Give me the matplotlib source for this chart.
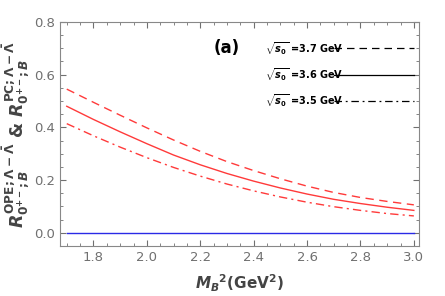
import matplotlib.pyplot as plt
from matplotlib.ticker import MultipleLocator

plt.rcParams["mathtext.fontset"] = "custom"
plt.rcParams["mathtext.it"] = "DejaVu Sans:bold:italic"
plt.rcParams["mathtext.rm"] = "DejaVu Sans:bold"
plt.rcParams["mathtext.bf"] = "DejaVu Sans:bold"

# Borel parameter M_B^2 (GeV^2)
m2 = [1.7, 1.8, 1.9, 2.0, 2.1, 2.2, 2.3, 2.4, 2.5, 2.6, 2.7, 2.8, 2.9, 3.0]

# pole-contribution ratios for three thresholds
pc_37 = [0.545, 0.495, 0.446, 0.398, 0.352, 0.309, 0.270, 0.236, 0.205, 0.177, 0.153, 0.134, 0.119, 0.106]
pc_36 = [0.480, 0.430, 0.383, 0.338, 0.295, 0.258, 0.225, 0.196, 0.170, 0.147, 0.127, 0.111, 0.097, 0.085]
pc_35 = [0.414, 0.368, 0.325, 0.285, 0.248, 0.215, 0.185, 0.159, 0.136, 0.116, 0.099, 0.085, 0.073, 0.064]

# OPE ratio (flat, ~0)
ope = [0.0] * len(m2)

legend_labels = ["3.7", "3.6", "3.5"]
legend_y = [0.70, 0.60, 0.50]
legend_styles = [(0, (6, 4)), "-", (0, (6, 3, 1.5, 3))]

red = "#ff3a3a"
gray = "#707070"

fig = plt.figure(figsize=(4.45, 2.96), dpi=100)
ax = fig.add_axes([0.135, 0.169, 0.807, 0.757])

ax.plot(m2, pc_37, color=red, lw=1.0, ls=(0, (6, 4)))
ax.plot(m2, pc_36, color=red, lw=1.0, ls="-")
ax.plot(m2, pc_35, color=red, lw=1.0, ls=(0, (6, 3, 1.5, 3)))
ax.plot(m2, ope, color="#2a2ae6", lw=1.0)

for lab, yy, st in zip(legend_labels, legend_y, legend_styles):
    ax.text(2.444, yy, r"$\sqrt{s_0}$ =" + lab + " GeV", fontsize=7,
            fontweight="bold", va="center", ha="left", color="black")
    ax.plot([2.70, 3.0], [yy, yy], color="black", lw=0.9, ls=st)

ax.text(2.30, 0.70, "(a)", fontsize=12, fontweight="bold", ha="center", va="center")

ax.set_xlim(1.675, 3.02)
ax.set_ylim(-0.05, 0.8)
ax.xaxis.set_major_locator(MultipleLocator(0.2))
ax.xaxis.set_minor_locator(MultipleLocator(0.05))
ax.yaxis.set_major_locator(MultipleLocator(0.2))
ax.yaxis.set_minor_locator(MultipleLocator(0.05))
ax.tick_params(which="both", direction="in", top=True, right=True, colors=gray,
               labelcolor=gray, labelsize=9.5)
ax.tick_params(which="major", length=4)
ax.tick_params(which="minor", length=2)
ax.xaxis.set_major_formatter(plt.FuncFormatter(lambda v, p: f"{v:.1f}"))
ax.yaxis.set_major_formatter(plt.FuncFormatter(lambda v, p: f"{v:.1f}"))
for s in ax.spines.values():
    s.set_color("#888888")
    s.set_linewidth(0.8)

ax.set_xlabel(r"$M_B{}^2$(GeV$^2$)", fontsize=11,
              fontweight="bold", color="#444444", labelpad=6)
ax.set_ylabel(r"$R^{\mathrm{OPE};\Lambda-\bar{\Lambda}}_{0^{+-};B}$ & "
              r"$R^{\mathrm{PC};\Lambda-\bar{\Lambda}}_{0^{+-};B}$",
              fontsize=12.5, fontweight="bold", color="#444444", labelpad=2)

fig.savefig("out.png", dpi=100)
